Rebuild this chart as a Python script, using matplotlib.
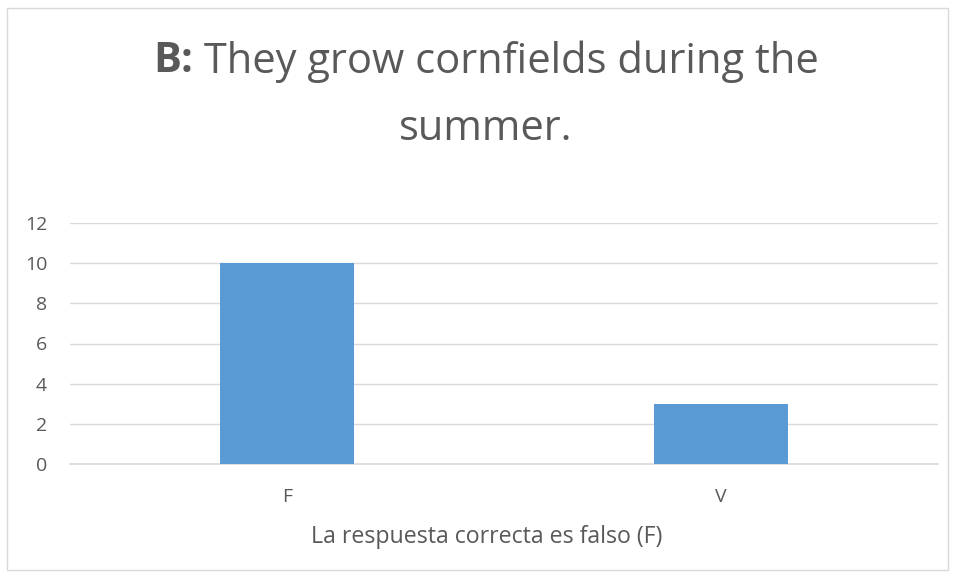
import matplotlib
matplotlib.use("Agg")
import matplotlib.pyplot as plt
from matplotlib.patches import Rectangle

categories = ["F", "V"]
values = [10, 3]
yticks = [0, 2, 4, 6, 8, 10, 12]
title_bold = "B:"
title_line1 = " They grow cornfields during the"
title_line2 = "summer."
xlabel = "La respuesta correcta es falso (F)"

TXT = "#595959"
FONT = "Open Sans"
W, H = 955, 576
fig = plt.figure(figsize=(W / 100, H / 100), dpi=100)
ax = fig.add_axes([70 / W, 1 - 464 / H, 868 / W, (464 - 223) / H])

x = list(range(len(categories)))
ax.bar(x, values, width=0.311, color="#5B9BD5", zorder=3)
ax.set_xlim(-0.5, len(categories) - 0.5)
ax.set_ylim(0, 12)
ax.set_yticks(yticks)
ax.set_yticklabels([str(t) for t in yticks], fontsize=14, color=TXT, family=FONT)
ax.set_xticks(x)
ax.set_xticklabels(categories, fontsize=14, color=TXT, family=FONT)
ax.tick_params(axis="both", length=0)
ax.tick_params(axis="y", pad=16.5)
ax.tick_params(axis="x", pad=17)
ax.grid(axis="y", color="#D9D9D9", linewidth=1, zorder=0)
for s in ["top", "right", "left"]:
    ax.spines[s].set_visible(False)
ax.spines["bottom"].set_color("#D9D9D9")
ax.spines["bottom"].set_linewidth(1.2)
ax.set_xlabel(xlabel, fontsize=16.7, color=TXT, family=FONT, labelpad=15)
ax.xaxis.set_label_coords((487 - 70) / 868, -(537 - 464) / (464 - 223))
ax.xaxis.label.set_va("center")

# figure border
fig.patches.append(Rectangle((7 / W, 1 - 570 / H), 941 / W, 562 / H, transform=fig.transFigure,
                             fill=False, edgecolor="#D9D9D9", linewidth=1))

# title with bold prefix
fs = 30
renderer = fig.canvas.get_renderer()
tb = fig.text(0, 0, title_bold, fontsize=fs, fontweight="bold", color=TXT, family=FONT)
tn = fig.text(0, 0, title_line1, fontsize=fs, color=TXT, family=FONT)
wb = tb.get_window_extent(renderer).width
wn = tn.get_window_extent(renderer).width
total = wb + wn
cx = 486
y1 = 1 - 62 / H
x0 = cx - total / 2
tb.set_position((x0 / W, y1))
tb.set_va("center")
tn.set_position(((x0 + wb) / W, y1))
tn.set_va("center")
fig.text(cx / W, 1 - 129 / H, title_line2, fontsize=fs, color=TXT, family=FONT, ha="center", va="center")

fig.savefig("out.png", dpi=100)
